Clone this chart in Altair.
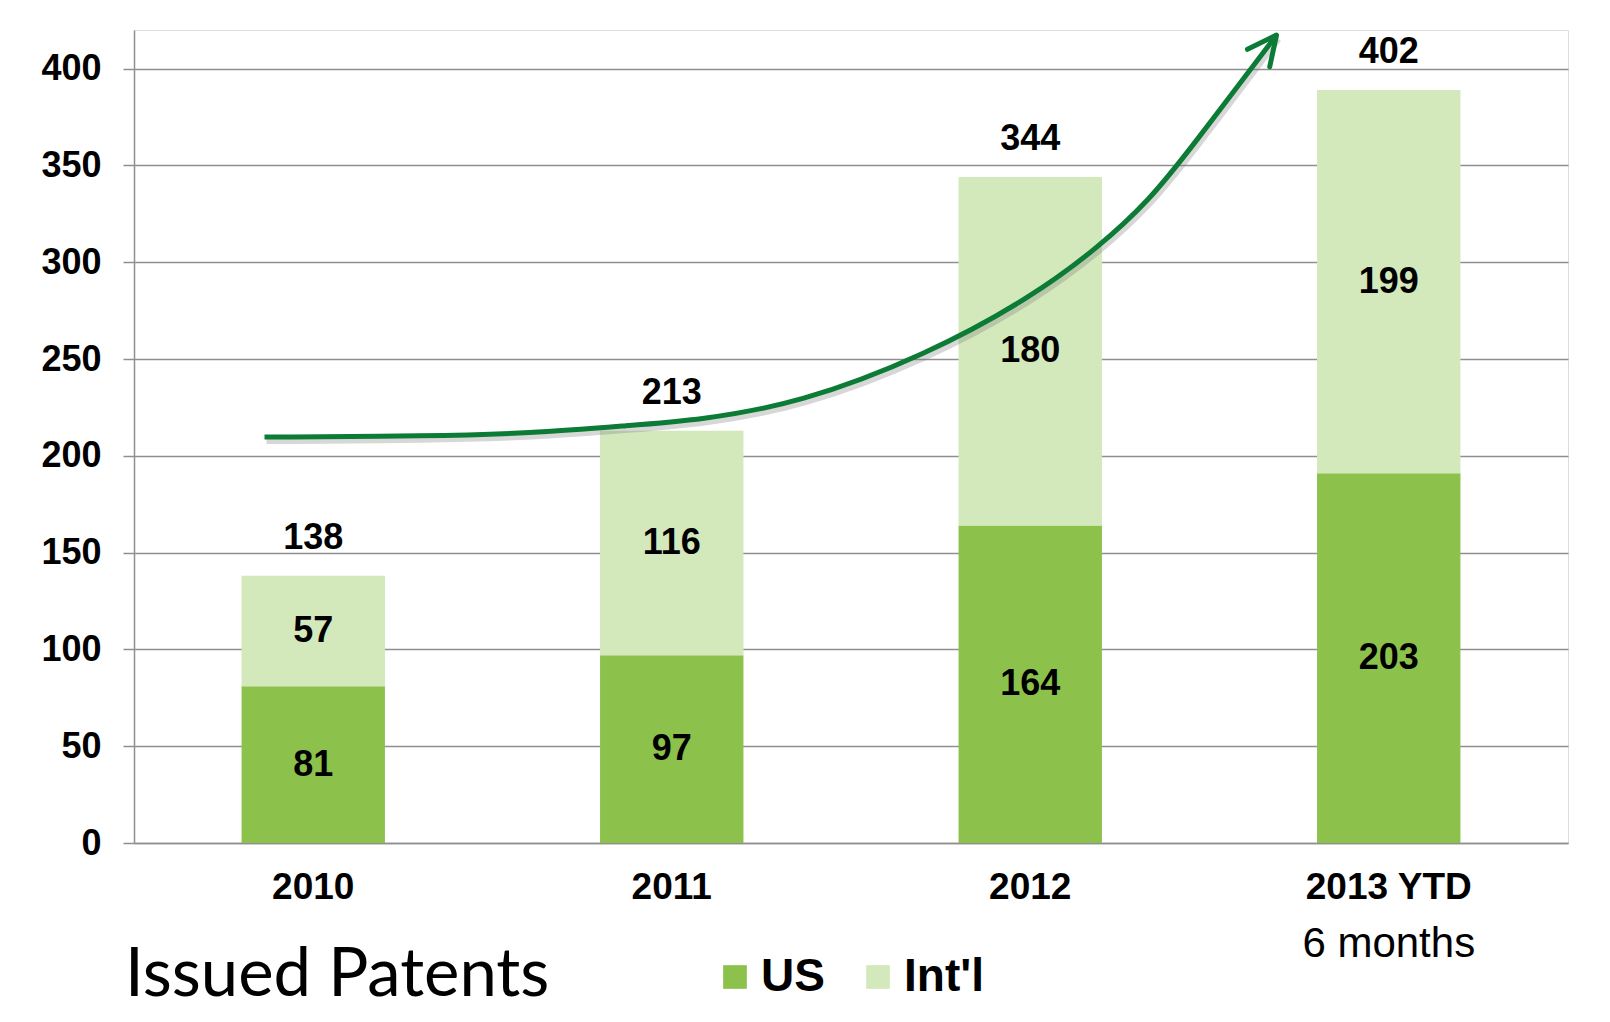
import json
import altair as alt
import pandas as pd

# ---- data ----
categories = ["2010", "2011", "2012", "2013 YTD"]
subtitles = ["", "", "", "6 months"]
series = ["US", "Int'l"]
us_bar = [81, 97, 164, 191]
intl_bar = [57, 116, 180, 198]
us_labels = ["81", "97", "164", "203"]
intl_labels = ["57", "116", "180", "199"]
total_labels = ["138", "213", "344", "402"]
y_ticks = [0, 50, 100, 150, 200, 250, 300, 350, 400]
x_ticks = [0, 1, 2, 3, 4]
# growth arrow, in category-band units (x) and axis units (y)
arrow_x = [0.364, 0.824, 1.103, 1.382, 1.577, 1.856, 2.209, 2.506, 2.692, 2.832, 2.944, 3.187]
arrow_y = [209.7, 210.2, 211.6, 215.7, 218.5, 227.1, 252.0, 282.2, 308.0, 332.0, 357.9, 417.4]
head_x = [3.106, 3.187, 3.168]
head_y = [410.0, 417.4, 401.0]

FONT = "Liberation Sans"
US_C = "#8cc24b"
INTL_C = "#d3e8bb"
ARROW_C = "#0b7b35"
GRID_C = "#8f8f8f"

seg = pd.DataFrame({
    "cat": categories * 2,
    "series": ["US"] * 4 + ["Int'l"] * 4,
    "value": us_bar + intl_bar,
    "label": us_labels + intl_labels,
    "order": [0] * 4 + [1] * 4,
})
tot = pd.DataFrame({
    "cat": categories,
    "total": [u + i for u, i in zip(us_bar, intl_bar)],
    "label": total_labels,
})
arrow = pd.DataFrame({"x": arrow_x, "y": arrow_y, "i": list(range(len(arrow_x)))})
head = pd.DataFrame({"x": head_x, "y": head_y, "i": list(range(len(head_x)))})

x_scale = alt.Scale(domain=categories, paddingInner=0.6, paddingOuter=0.3)
y_scale = alt.Scale(domain=[0, 420], nice=False, zero=True)
ax_scale = alt.Scale(domain=[0, 4], nice=False, zero=True)

y_axis = alt.Axis(
    title=None, values=y_ticks, labelFont=FONT, labelFontSize=36, labelFontWeight="bold",
    labelColor="black", tickSize=11, tickColor=GRID_C, tickWidth=1.5, domainColor=GRID_C,
    domainWidth=1.5, grid=True, gridColor=GRID_C, gridWidth=1.5, labelPadding=22,
)
label_axis = alt.Axis(
    title=None, orient="bottom", labelFont=FONT, labelFontSize=37, labelFontWeight="bold",
    labelColor="black", ticks=False, tickSize=0, domain=True, domainColor=GRID_C,
    domainWidth=1.5, grid=False, labelPadding=26, labelAngle=0,
)
sub_map = json.dumps(dict(zip(categories, subtitles)))
sub_axis = alt.Axis(
    title=None, orient="bottom", labelFont=FONT, labelFontSize=42, labelFontWeight="normal",
    labelColor="black", ticks=False, tickSize=0, domain=False, grid=False,
    labelPadding=80, labelAngle=0, labelExpr=f"({sub_map})[datum.value] || ''",
)
tick_axis = alt.Axis(
    title=None, orient="bottom", values=x_ticks, labels=False, domain=False, grid=False,
    ticks=True, tickSize=9, tickColor=GRID_C, tickWidth=1.5,
)

bars = alt.Chart(seg).mark_bar().encode(
    x=alt.X("cat:N", scale=x_scale, axis=label_axis),
    y=alt.Y("value:Q", stack="zero", scale=y_scale, axis=y_axis),
    color=alt.Color(
        "series:N",
        scale=alt.Scale(domain=series, range=[US_C, INTL_C]),
        legend=alt.Legend(
            title=None, orient="none", legendX=578, legendY=924, direction="horizontal",
            symbolType="square", symbolSize=560, symbolStrokeWidth=0, labelFont=FONT,
            labelFontSize=46, labelFontWeight="bold", labelColor="black", labelOffset=3,
            columnPadding=30, padding=0,
        ),
    ),
    order=alt.Order("order:Q"),
)

seg_text = alt.Chart(seg).transform_stack(
    stack="value", groupby=["cat"], sort=[alt.SortField("order", order="ascending")],
    as_=["y0", "y1"],
).transform_calculate(mid="(datum.y0 + datum.y1) / 2").mark_text(
    font=FONT, fontSize=36, fontWeight="bold", color="black", baseline="middle", align="center"
).encode(
    x=alt.X("cat:N", scale=x_scale, axis=None),
    y=alt.Y("mid:Q", scale=y_scale, axis=y_axis),
    text="label:N",
)

tot_text = alt.Chart(tot).mark_text(
    font=FONT, fontSize=36, fontWeight="bold", color="black", baseline="middle",
    align="center", dy=-38,
).encode(
    x=alt.X("cat:N", scale=x_scale, axis=sub_axis),
    y=alt.Y("total:Q", scale=y_scale, axis=y_axis),
    text="label:N",
)

inner = alt.layer(bars, seg_text, tot_text).resolve_axis(x="independent")

shadow = alt.Chart(arrow).mark_line(
    color="#7a7a7a", opacity=0.3, strokeWidth=6, interpolate="basis", xOffset=2, yOffset=4
).encode(
    x=alt.X("x:Q", scale=ax_scale, axis=None),
    y=alt.Y("y:Q", scale=y_scale, axis=y_axis),
    order="i:Q",
)
curve = alt.Chart(arrow).mark_line(
    color=ARROW_C, strokeWidth=5, interpolate="basis"
).encode(
    x=alt.X("x:Q", scale=ax_scale, axis=tick_axis),
    y=alt.Y("y:Q", scale=y_scale, axis=y_axis),
    order="i:Q",
)
arrowhead = alt.Chart(head).mark_line(
    color=ARROW_C, strokeWidth=5, strokeCap="round", strokeJoin="round"
).encode(
    x=alt.X("x:Q", scale=ax_scale, axis=None),
    y=alt.Y("y:Q", scale=y_scale, axis=y_axis),
    order="i:Q",
)
arrows = alt.layer(shadow, curve, arrowhead)

chart = alt.layer(inner, arrows).resolve_scale(x="independent").properties(
    width=1434,
    height=813,
    autosize=alt.AutoSizeParams(type="none"),
    padding={"left": 126, "top": 22, "right": 30, "bottom": 170},
    title=alt.TitleParams(
        text="Issued Patents", orient="bottom", anchor="start", frame="group",
        font="Lato", fontSize=67, fontWeight="normal", color="black", offset=-57, dx=-9,
    ),
).configure_view(stroke=None).configure(background="white")

chart.save("out.html", embed_options={"renderer": "svg", "actions": False})
